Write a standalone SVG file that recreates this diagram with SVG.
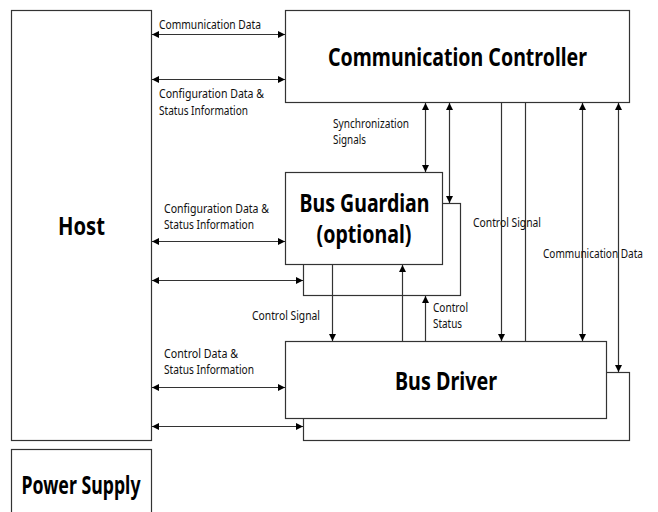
<svg xmlns="http://www.w3.org/2000/svg" width="658" height="512" viewBox="0 0 658 512">
<style>
.box{fill:#fff;stroke:#333;stroke-width:1.2}
.big{font-family:"Noto Sans","Open Sans",sans-serif;font-weight:bold;font-size:25px;fill:#000;text-anchor:middle}
.lbl{font-family:"Noto Sans","Open Sans",sans-serif;font-size:12px;fill:#111}
.c{stroke:#333;stroke-width:1.2;fill:none}
</style>
<defs>
<marker id="ah" viewBox="0 0 10 10" refX="10" refY="5" markerWidth="7" markerHeight="7" markerUnits="userSpaceOnUse" orient="auto-start-reverse">
<path d="M0,0 L10,5 L0,10 z" fill="#000"/>
</marker>
</defs>
<rect width="658" height="512" fill="#fff"/>
<g id="host"><rect class="box" x="11.5" y="10.5" width="140" height="430"/><text class="big" x="81.5" y="235" textLength="47" lengthAdjust="spacingAndGlyphs">Host</text></g>
<g id="power-supply"><rect class="box" x="11.5" y="449.5" width="140" height="70"/><text class="big" x="81" y="494" textLength="119" lengthAdjust="spacingAndGlyphs">Power Supply</text></g>
<g id="communication-controller"><rect class="box" x="285.5" y="10.5" width="344" height="92"/><text class="big" x="457.5" y="66" textLength="259" lengthAdjust="spacingAndGlyphs">Communication Controller</text></g>
<g id="bus-guardian"><rect class="box" x="303.5" y="203.5" width="157" height="92"/><rect class="box" x="285.5" y="172.5" width="157" height="92"/><text class="big" x="364.5" y="212" textLength="130" lengthAdjust="spacingAndGlyphs">Bus Guardian</text><text class="big" x="364" y="243" textLength="95" lengthAdjust="spacingAndGlyphs">(optional)</text></g>
<g id="bus-driver"><rect class="box" x="303.5" y="372.5" width="326" height="68"/><rect class="box" x="285.5" y="341.5" width="321" height="77"/><text class="big" x="446" y="390" textLength="102" lengthAdjust="spacingAndGlyphs">Bus Driver</text></g>
<g id="connectors">
<line class="c" x1="152" y1="34.5" x2="285" y2="34.5" marker-start="url(#ah)" marker-end="url(#ah)"/>
<line class="c" x1="152" y1="79.5" x2="285" y2="79.5" marker-start="url(#ah)" marker-end="url(#ah)"/>
<line class="c" x1="152" y1="241.5" x2="285" y2="241.5" marker-start="url(#ah)" marker-end="url(#ah)"/>
<line class="c" x1="152" y1="280.5" x2="303" y2="280.5" marker-start="url(#ah)" marker-end="url(#ah)"/>
<line class="c" x1="152" y1="387.5" x2="285" y2="387.5" marker-start="url(#ah)" marker-end="url(#ah)"/>
<line class="c" x1="152" y1="426.5" x2="303" y2="426.5" marker-start="url(#ah)" marker-end="url(#ah)"/>
<line class="c" x1="425.5" y1="103" x2="425.5" y2="172" marker-start="url(#ah)" marker-end="url(#ah)"/>
<line class="c" x1="449.5" y1="103" x2="449.5" y2="203" marker-start="url(#ah)" marker-end="url(#ah)"/>
<line class="c" x1="501.5" y1="103" x2="501.5" y2="341" marker-end="url(#ah)"/>
<line class="c" x1="525.5" y1="103" x2="525.5" y2="341"/>
<line class="c" x1="582.5" y1="103" x2="582.5" y2="341" marker-start="url(#ah)" marker-end="url(#ah)"/>
<line class="c" x1="618.5" y1="103" x2="618.5" y2="372" marker-start="url(#ah)" marker-end="url(#ah)"/>
<line class="c" x1="332.5" y1="265" x2="332.5" y2="341" marker-end="url(#ah)"/>
<line class="c" x1="402.5" y1="341" x2="402.5" y2="265" marker-end="url(#ah)"/>
<line class="c" x1="425.5" y1="341" x2="425.5" y2="296" marker-end="url(#ah)"/>
</g>
<g id="labels">
<text class="lbl" x="159" y="29" textLength="102" lengthAdjust="spacingAndGlyphs">Communication Data</text>
<text class="lbl" x="159" y="98" textLength="105" lengthAdjust="spacingAndGlyphs">Configuration Data &amp;</text>
<text class="lbl" x="159" y="115" textLength="89" lengthAdjust="spacingAndGlyphs">Status Information</text>
<text class="lbl" x="333" y="128" textLength="76" lengthAdjust="spacingAndGlyphs">Synchronization</text>
<text class="lbl" x="333" y="144" textLength="33" lengthAdjust="spacingAndGlyphs">Signals</text>
<text class="lbl" x="164" y="213" textLength="105" lengthAdjust="spacingAndGlyphs">Configuration Data &amp;</text>
<text class="lbl" x="164" y="229" textLength="90" lengthAdjust="spacingAndGlyphs">Status Information</text>
<text class="lbl" x="473" y="227" textLength="68" lengthAdjust="spacingAndGlyphs">Control Signal</text>
<text class="lbl" x="543" y="258" textLength="100" lengthAdjust="spacingAndGlyphs">Communication Data</text>
<text class="lbl" x="252" y="320" textLength="68" lengthAdjust="spacingAndGlyphs">Control Signal</text>
<text class="lbl" x="433" y="312" textLength="35" lengthAdjust="spacingAndGlyphs">Control</text>
<text class="lbl" x="433" y="328" textLength="29" lengthAdjust="spacingAndGlyphs">Status</text>
<text class="lbl" x="164" y="358" textLength="74" lengthAdjust="spacingAndGlyphs">Control Data &amp;</text>
<text class="lbl" x="164" y="374" textLength="90" lengthAdjust="spacingAndGlyphs">Status Information</text>
</g>
</svg>
